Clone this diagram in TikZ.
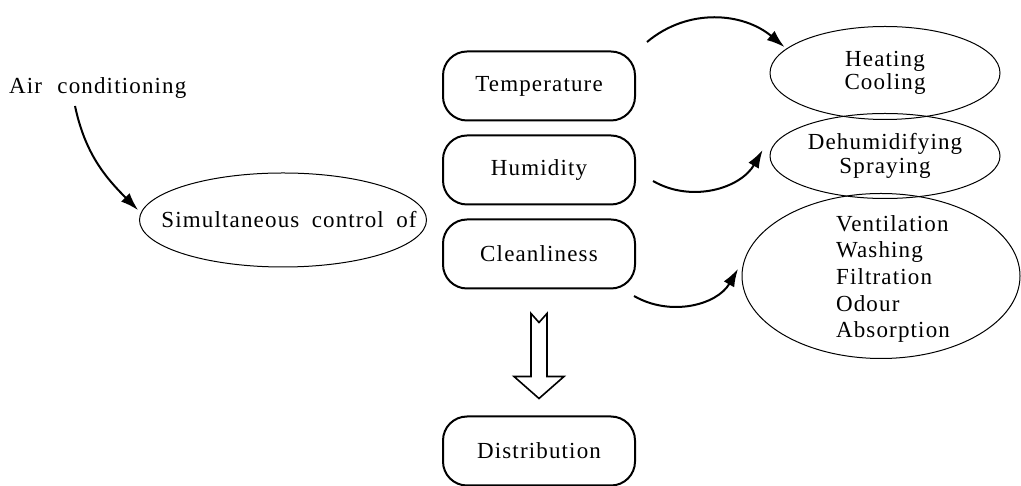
\documentclass[tikz,border=0pt]{standalone}
\usepackage{fontspec}
\setmainfont{Liberation Serif}[LetterSpace=5,WordSpace=1.8]
\usetikzlibrary{shapes.geometric,arrows.meta}

\begin{document}
\begin{tikzpicture}[x=0.5pt, y=0.5pt, font=\fontsize{11.5}{13.3}\selectfont,
  ctrl/.style={draw, line width=1pt, rounded corners=12pt, minimum width=96pt, minimum height=34.5pt},
  oval/.style={draw, ellipse, line width=0.5pt, inner sep=0pt},
  curvearrow/.style={-{Latex[length=9pt,width=6pt]}, line width=1pt}]
\useasboundingbox (0,0) rectangle (1021,486);

\node[anchor=west] (air) at (2, 398) {Air\hspace{1.5pt} conditioning};
\node[oval, minimum width=143.5pt, minimum height=47pt,
  label={[xshift=3pt]center:Simultaneous control of}] (simul) at (283, 266) {};

\node[ctrl] (temp) at (539, 400) {Temperature};
\node[ctrl] (hum) at (539, 316) {Humidity};
\node[ctrl] (clean) at (539, 232) {Cleanliness};
\node[ctrl] (dist) at (539, 35) {Distribution};

\node[oval, minimum width=115pt, minimum height=46.5pt,
  label={[align=center, font=\fontsize{11.5}{11.7}\selectfont]center:Heating\\Cooling}] (heat) at (885, 413) {};
\node[oval, minimum width=115pt, minimum height=42.5pt,
  label={[align=center, font=\fontsize{11.5}{11.7}\selectfont]center:Dehumidifying\\Spraying}] (dehum) at (885, 330) {};
\node[oval, minimum width=139pt, minimum height=82.5pt,
  label={[align=left, xshift=6pt, yshift=-1.5pt]center:Ventilation\\Washing\\Filtration\\Odour\\Absorption}] (vent) at (881, 210) {};

\coordinate (a0) at (75, 380);
\coordinate (a1) at (647, 444);
\coordinate (a2) at (653, 305);
\coordinate (a3) at (634, 190);

\draw[curvearrow] (a0) to[out=-78, in=135] ([xshift=-2pt]simul.176);
\draw[curvearrow] (a1) to[out=40, in=140] ([xshift=-2pt]heat.165);
\draw[curvearrow] (a2) to[out=-30, in=-120] ([xshift=-4pt]dehum.177);
\draw[curvearrow] (a3) to[out=-30, in=-120] ([xshift=-2pt]vent.177);

% hollow arrow down to distribution
\draw[line width=0.8pt] ([xshift=-4pt, yshift=-12pt]clean.south) -- ++(8,-9) -- ++(8,9) -- ++(0,-63)
  -- ++(17,0) -- ++(-25,-22) -- ++(-25,22) -- ++(17,0) -- cycle;

\end{tikzpicture}
\end{document}
